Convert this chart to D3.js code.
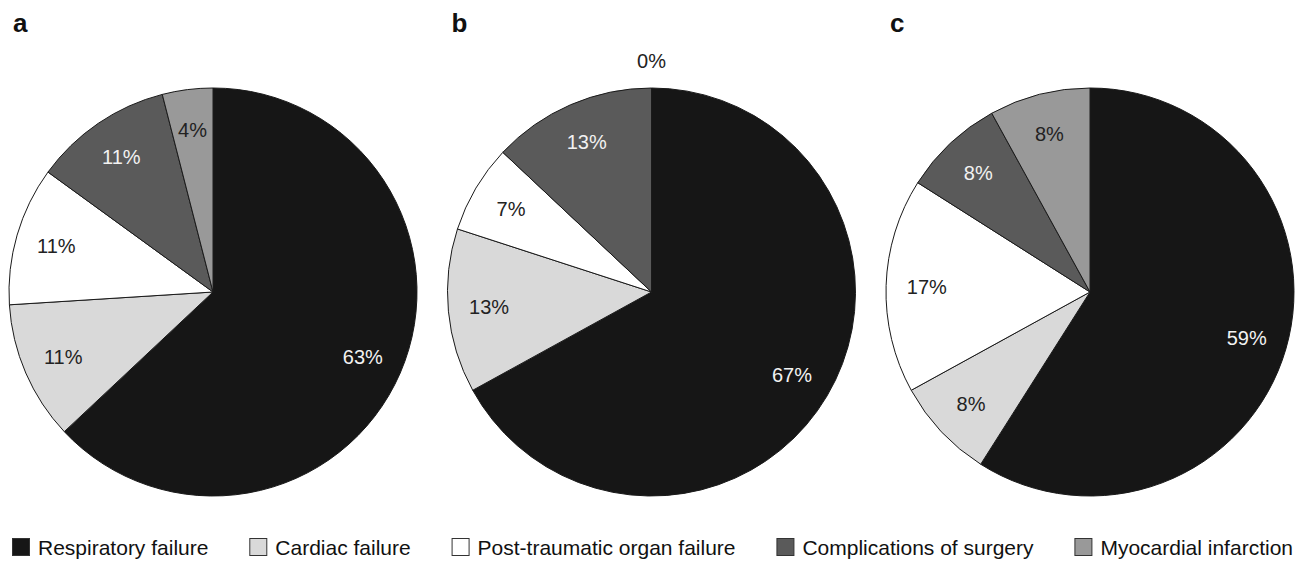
<!DOCTYPE html>
<html>
<head>
<meta charset="utf-8">
<script src="https://cdn.jsdelivr.net/npm/d3@7/dist/d3.min.js"></script>
<style>
  html, body { margin: 0; padding: 0; background: #fff; }
  svg { display: block; font-family: "Liberation Sans", Arial, Helvetica, sans-serif; }
</style>
</head>
<body>
<svg id="chart" width="1297" height="562"></svg>
<script>
const categories = ["Respiratory failure", "Cardiac failure", "Post-traumatic organ failure", "Complications of surgery", "Myocardial infarction"];
const panels = ["a", "b", "c"];
const valuesA = [63, 11, 11, 11, 4];
const valuesB = [67, 13, 7, 13, 0];
const valuesC = [59, 8, 17, 8, 8];
const colors = ["#161616", "#d9d9d9", "#ffffff", "#5a5a5a", "#999999"];
const textColors = ["#f2f2f2", "#222222", "#222222", "#f2f2f2", "#222222"];

const svg = d3.select("#chart");
const radius = 204;
const cy = 292;
const centers = d3.scalePoint().domain(panels).range([213, 1090]);
const series = [valuesA, valuesB, valuesC];

const pie = d3.pie().sort(null).value(d => d.v);
const arc = d3.arc().innerRadius(0).outerRadius(radius);
const labelArc = d3.arc().innerRadius(radius * 0.8).outerRadius(radius * 0.8);
const outerLabelArc = d3.arc().innerRadius(radius * 1.13).outerRadius(radius * 1.13);

panels.forEach((p, i) => {
  const cx = centers(p);
  const data = series[i].map((v, k) => ({ v, k }));
  const arcs = pie(data);
  const g = svg.append("g").attr("transform", `translate(${cx},${cy})`);

  g.selectAll("path.slice")
    .data(arcs.filter(a => a.data.v > 0))
    .join("path")
    .attr("class", "slice")
    .attr("d", arc)
    .attr("fill", d => colors[d.data.k])
    .attr("stroke", "#1a1a1a")
    .attr("stroke-width", 1)
    .attr("stroke-linejoin", "round");

  g.selectAll("text.lbl")
    .data(arcs)
    .join("text")
    .attr("class", "lbl")
    .attr("transform", d => {
      const c = d.data.v > 0 ? labelArc.centroid(d) : outerLabelArc.centroid(d);
      return `translate(${c[0]},${c[1]})`;
    })
    .attr("text-anchor", "middle")
    .attr("dominant-baseline", "central")
    .attr("font-size", 20)
    .attr("fill", d => d.data.v > 0 ? textColors[d.data.k] : "#222222")
    .text(d => d.data.v + "%");

  svg.append("text")
    .attr("x", cx - 200)
    .attr("y", 32)
    .attr("font-size", 26)
    .attr("font-weight", "bold")
    .attr("fill", "#111")
    .text(p);
});

// Legend: items spread evenly between left and right limits
const legendLeft = 12, legendRight = 1293, sq = 18, sqGap = 8, fs = 21, ly = 547;
const legend = svg.append("g");
const items = categories.map((c, k) => {
  const g = legend.append("g");
  g.append("rect")
    .attr("x", 0.5).attr("y", ly - sq / 2 + 0.5)
    .attr("width", sq - 1).attr("height", sq - 1)
    .attr("fill", colors[k])
    .attr("stroke", "#333").attr("stroke-width", 1);
  const t = g.append("text")
    .attr("x", sq + sqGap)
    .attr("y", ly)
    .attr("dominant-baseline", "central")
    .attr("font-size", fs)
    .attr("fill", "#111")
    .text(c);
  return { g, w: sq + sqGap + t.node().getComputedTextLength() };
});
const totalW = d3.sum(items, d => d.w);
const gap = (legendRight - legendLeft - totalW) / (items.length - 1);
let xPos = legendLeft;
items.forEach(it => {
  it.g.attr("transform", `translate(${xPos},0)`);
  xPos += it.w + gap;
});
</script>
</body>
</html>
